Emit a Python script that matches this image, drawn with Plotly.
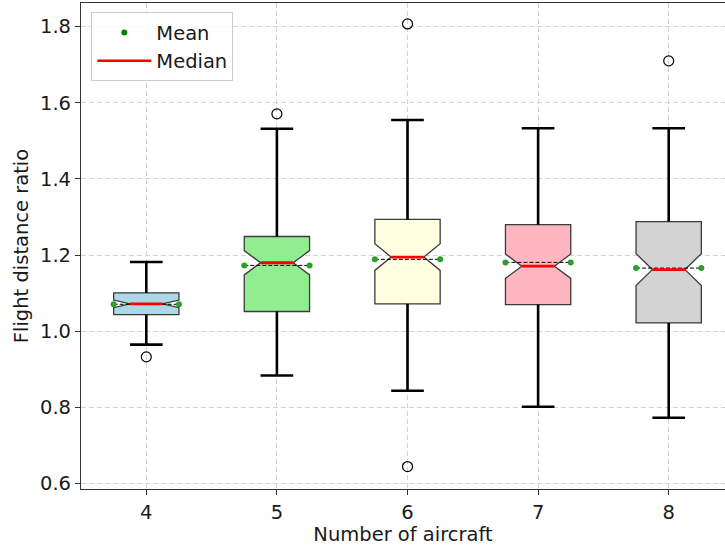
import plotly.graph_objects as go

# ---- data ----
aircraft = [4, 5, 6, 7, 8]
q1 = [1.044, 1.052, 1.072, 1.070, 1.022]
median = [1.072, 1.180, 1.195, 1.171, 1.162]
q3 = [1.101, 1.249, 1.294, 1.280, 1.288]
lower_whisker = [0.965, 0.884, 0.844, 0.802, 0.773]
upper_whisker = [1.182, 1.532, 1.555, 1.533, 1.533]
mean = [1.071, 1.173, 1.189, 1.181, 1.166]
notch_half = [0.010, 0.032, 0.035, 0.032, 0.042]
outlier_x = [4, 5, 6, 6, 8]
outlier_y = [0.933, 1.571, 1.807, 0.645, 1.710]
fill_colors = ["#add8e6", "#90ee90", "#ffffe0", "#ffb6c1", "#d3d3d3"]

BOX_W = 0.5
CAP_HW = 0.125
MED_HW = 0.125
FONT = "DejaVu Sans"
FS = 19.5

fig = go.Figure()

for i, pos in enumerate(aircraft):
    fig.add_trace(go.Box(
        x=[pos], q1=[q1[i]], median=[median[i]], q3=[q3[i]],
        lowerfence=[lower_whisker[i]], upperfence=[upper_whisker[i]],
        notched=True, notchspan=[notch_half[i]], notchwidth=0.25,
        width=BOX_W, whiskerwidth=0, boxpoints=False,
        fillcolor=fill_colors[i], line=dict(color="#3a3a3a", width=1.3),
        showlegend=False, hoverinfo="skip",
    ))

# whiskers
wx, wy = [], []
for i, pos in enumerate(aircraft):
    wx += [pos, pos, None, pos, pos, None]
    wy += [q3[i], upper_whisker[i], None, q1[i], lower_whisker[i], None]
fig.add_trace(go.Scatter(x=wx, y=wy, mode="lines",
                         line=dict(color="black", width=2.6),
                         showlegend=False, hoverinfo="skip"))
# caps
cx, cy = [], []
for i, pos in enumerate(aircraft):
    cx += [pos - CAP_HW, pos + CAP_HW, None, pos - CAP_HW, pos + CAP_HW, None]
    cy += [upper_whisker[i], upper_whisker[i], None, lower_whisker[i], lower_whisker[i], None]
fig.add_trace(go.Scatter(x=cx, y=cy, mode="lines",
                         line=dict(color="black", width=2.6),
                         showlegend=False, hoverinfo="skip"))

# mean dashed lines
mx, my = [], []
for i, pos in enumerate(aircraft):
    mx += [pos - BOX_W / 2, pos + BOX_W / 2, None]
    my += [mean[i], mean[i], None]
fig.add_trace(go.Scatter(x=mx, y=my, mode="lines",
                         line=dict(color="black", width=1, dash="4px,2px"),
                         showlegend=False, hoverinfo="skip"))

# median red lines
rx, ry = [], []
for i, pos in enumerate(aircraft):
    rx += [pos - MED_HW, pos + MED_HW, None]
    ry += [median[i], median[i], None]
fig.add_trace(go.Scatter(x=rx, y=ry, mode="lines",
                         line=dict(color="red", width=2.8),
                         showlegend=False, hoverinfo="skip"))

# mean dots at the box edges
dx, dy = [], []
for i, pos in enumerate(aircraft):
    dx += [pos - BOX_W / 2, pos + BOX_W / 2]
    dy += [mean[i], mean[i]]
fig.add_trace(go.Scatter(x=dx, y=dy, mode="markers",
                         marker=dict(color="#2ca02c", size=6),
                         showlegend=False, hoverinfo="skip"))

# outliers
fig.add_trace(go.Scatter(x=outlier_x, y=outlier_y, mode="markers",
                         marker=dict(symbol="circle-open", color="black", size=10,
                                     line=dict(width=1.2)),
                         showlegend=False, hoverinfo="skip"))

# legend entries
fig.add_trace(go.Scatter(x=[None], y=[None], mode="markers", name="Mean",
                         marker=dict(color="green", size=6)))
fig.add_trace(go.Scatter(x=[None], y=[None], mode="lines", name="Median",
                         line=dict(color="red", width=2.6)))

fig.update_layout(
    width=725, height=547,
    margin=dict(l=81, r=0, t=3, b=58, autoexpand=False),
    paper_bgcolor="white", plot_bgcolor="white",
    font=dict(family=FONT, size=FS, color="#1a1a1a"),
    showlegend=True,
    legend=dict(x=0.016, y=0.981, xanchor="left", yanchor="top",
                bgcolor="rgba(255,255,255,0.85)", bordercolor="#cccccc",
                borderwidth=1, itemwidth=54, tracegroupgap=4,
                font=dict(size=FS, family=FONT)),
    xaxis=dict(
        range=[3.5, 8.431], tickmode="array", tickvals=aircraft,
        ticktext=[str(a) for a in aircraft],
        showgrid=True, gridcolor="#d4d4d4", griddash="5px,3px", gridwidth=1,
        showline=True, linecolor="#333", linewidth=1.2, mirror=True,
        ticks="outside", ticklen=5, tickcolor="#333", zeroline=False,
        automargin=False, tickfont=dict(size=FS),
        title=dict(text="Number of aircraft", standoff=3, font=dict(size=FS)),
    ),
    yaxis=dict(
        range=[0.586, 1.862], tickmode="array",
        tickvals=[0.6, 0.8, 1.0, 1.2, 1.4, 1.6, 1.8],
        ticktext=["0.6", "0.8", "1.0", "1.2", "1.4", "1.6", "1.8"],
        showgrid=True, gridcolor="#d4d4d4", griddash="5px,3px", gridwidth=1,
        showline=True, linecolor="#333", linewidth=1.2, mirror=True,
        ticks="outside", ticklen=5, tickcolor="#333", zeroline=False,
        automargin=False, tickfont=dict(size=FS),
        title=dict(text="Flight distance ratio", standoff=6, font=dict(size=FS)),
    ),
)

fig.write_html("out.html", config={"displayModeBar": False},
               post_script="document.body.style.margin='0';document.body.style.overflow='hidden';")
